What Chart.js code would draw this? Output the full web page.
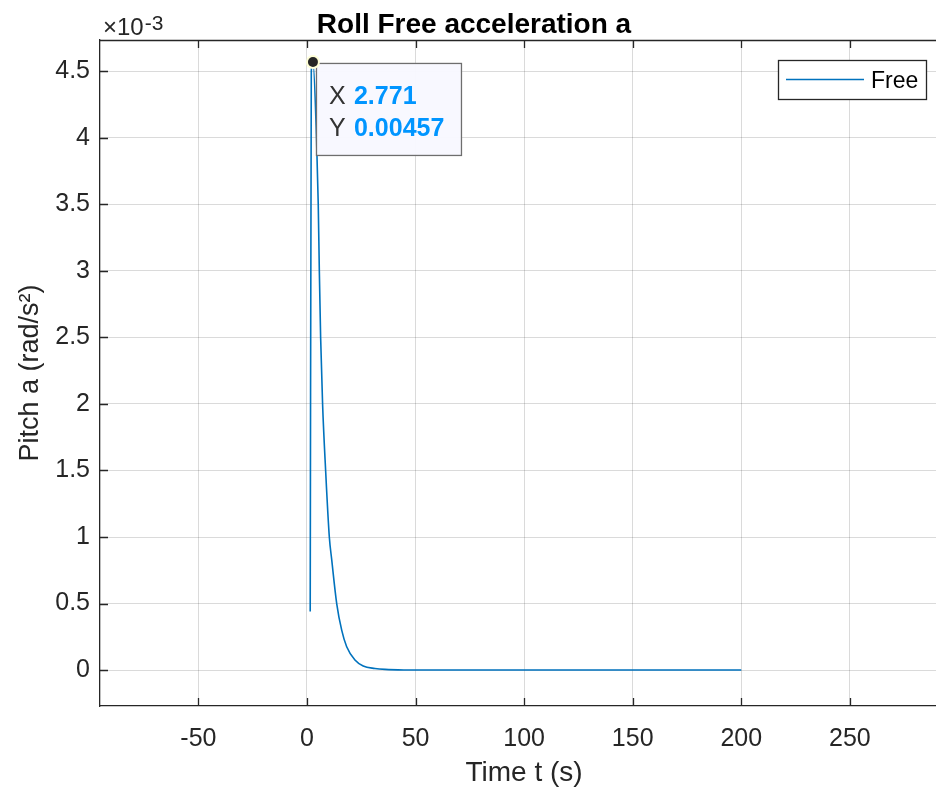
<!DOCTYPE html>
<html>
<head>
<meta charset="utf-8">
<script src="https://cdn.jsdelivr.net/npm/chart.js@4.4.1/dist/chart.umd.min.js"></script>
<style>
  html, body { margin: 0; padding: 0; background: #fff; overflow: hidden; }
  #outer { width: 936px; height: 792px; overflow: hidden; }
  /* the axes run a little past the right edge of the picture */
  #wrap { width: 948px; height: 792px; }
</style>
</head>
<body>
<div id="outer"><div id="wrap"><canvas id="rollChart"></canvas></div></div>
<script>
// values (time in s, acceleration in rad/s^2)
let timeS = [1.5, 2.0, 2.771, 4.4, 5.2, 5.7, 6.3, 7.2, 8.6, 10.3, 11.4, 13.7, 16.0, 18.3, 22.1, 25.9, 31.3, 36.0, 45, 60, 100, 150, 200];
let pitchAcc = [0.00044, 0.00450, 0.00457, 0.00400, 0.00350, 0.00300, 0.00250, 0.00200, 0.00150, 0.00100, 0.00083, 0.00050, 0.00030, 0.000175, 0.000075, 0.00003, 0.000012, 0.000005, 0.000001, 0, 0, 0, 0];
let seriesName = "Free";
let tipIndex = 2;

let xMin = -95.3, xMax = 295.2;
let yMin = -0.00027, yMax = 0.004735;

let fontName = "'Liberation Sans', Arial, sans-serif";
let axisCol = "#262626";
let lineCol = "#0072BD";

let points = timeS.map((t, i) => ({x: t, y: pitchAcc[i]}));

// MATLAB style box: inward ticks, top border, exponent label
let boxPlugin = {
    id: "boxPlugin",
    afterDraw(chart) {
        let ctx = chart.ctx;
        let a = chart.chartArea;
        let xs = chart.scales.x, ys = chart.scales.y;
        ctx.save();
        ctx.strokeStyle = axisCol;
        ctx.lineWidth = 1.3;
        ctx.beginPath();
        ctx.moveTo(a.left, a.top + 0.5);
        ctx.lineTo(a.right, a.top + 0.5);
        xs.ticks.forEach(t => {
            let px = Math.round(xs.getPixelForValue(t.value)) + 0.5;
            ctx.moveTo(px, a.bottom); ctx.lineTo(px, a.bottom - 8);
            ctx.moveTo(px, a.top); ctx.lineTo(px, a.top + 8);
        });
        ys.ticks.forEach(t => {
            let py = Math.round(ys.getPixelForValue(t.value)) + 0.5;
            ctx.moveTo(a.left, py); ctx.lineTo(a.left + 8, py);
        });
        ctx.stroke();

        ctx.fillStyle = axisCol;
        ctx.textBaseline = "alphabetic";
        ctx.textAlign = "left";
        ctx.font = "24px " + fontName;
        ctx.fillText("\u00d710", a.left + 3, a.top - 5);
        let w = ctx.measureText("\u00d710").width;
        ctx.font = "21px " + fontName;
        ctx.fillText("-3", a.left + 3 + w + 1, a.top - 10);
        ctx.restore();
    }
};

let legendPlugin = {
    id: "legendPlugin",
    afterDraw(chart) {
        let ctx = chart.ctx;
        let a = chart.chartArea;
        let bx = a.left + 678, by = a.top + 20, bw = 148, bh = 39;
        ctx.save();
        ctx.fillStyle = "#fff";
        ctx.fillRect(bx, by, bw, bh);
        ctx.strokeStyle = "#262626";
        ctx.lineWidth = 1.3;
        ctx.strokeRect(bx + 0.5, by + 0.5, bw, bh);
        ctx.strokeStyle = lineCol;
        ctx.lineWidth = 1.5;
        ctx.beginPath();
        ctx.moveTo(bx + 8, by + 19.5);
        ctx.lineTo(bx + 86, by + 19.5);
        ctx.stroke();
        ctx.fillStyle = "#000";
        ctx.font = "23px " + fontName;
        ctx.textBaseline = "alphabetic";
        ctx.fillText(chart.data.datasets[0].label, bx + 93, by + 28);
        ctx.restore();
    }
};

let tipPlugin = {
    id: "tipPlugin",
    afterDraw(chart) {
        let ctx = chart.ctx;
        let el = chart.getDatasetMeta(0).data[tipIndex];
        let px = el.x, py = el.y;
        ctx.save();
        let bx = px + 3, by = py + 1, bw = 145, bh = 92;
        ctx.fillStyle = "rgba(248,248,255,0.97)";
        ctx.fillRect(bx, by, bw, bh);
        ctx.strokeStyle = "#6e6e6e";
        ctx.lineWidth = 1.3;
        ctx.strokeRect(bx + 0.5, by + 0.5, bw, bh);

        ctx.font = "25px " + fontName;
        ctx.textBaseline = "alphabetic";
        ctx.fillStyle = "#333";
        ctx.fillText("X", bx + 13, by + 41);
        ctx.fillText("Y", bx + 13, by + 73);
        ctx.fillStyle = "#0095ff";
        ctx.font = "bold 25px " + fontName;
        ctx.fillText(String(timeS[tipIndex]), bx + 38, by + 41);
        ctx.fillText(String(pitchAcc[tipIndex]), bx + 38, by + 73);

        ctx.beginPath();
        ctx.arc(px, py, 7, 0, Math.PI * 2);
        ctx.fillStyle = "#ffffd8";
        ctx.fill();
        ctx.beginPath();
        ctx.arc(px, py, 5, 0, Math.PI * 2);
        ctx.fillStyle = "#262626";
        ctx.fill();
        ctx.restore();
    }
};

let ctx = document.getElementById("rollChart").getContext("2d");
let rollChart = new Chart(ctx, {
    type: "line",
    data: {
        datasets: [{
            label: seriesName,
            data: points,
            borderColor: lineCol,
            borderWidth: 1.6,
            pointRadius: 0,
            fill: false,
            cubicInterpolationMode: "monotone"
        }]
    },
    options: {
        responsive: true,
        maintainAspectRatio: false,
        animation: false,
        layout: { padding: { left: 0, right: 0, top: 0, bottom: 0 } },
        plugins: {
            legend: { display: false },
            tooltip: { enabled: false },
            title: {
                display: true,
                text: "Roll Free acceleration a",
                color: "#000",
                font: { family: fontName, size: 28, weight: "bold", lineHeight: 1.0 },
                padding: { top: 11, bottom: 1 }
            }
        },
        scales: {
            x: {
                type: "linear",
                min: xMin,
                max: xMax,
                afterFit: s => { s.height = 86; },
                border: { color: axisCol, width: 1.3 },
                grid: { color: "rgba(38,38,38,0.17)", lineWidth: 1, drawTicks: false },
                ticks: {
                    stepSize: 50,
                    includeBounds: false,
                    autoSkip: false,
                    maxRotation: 0,
                    padding: 18,
                    color: axisCol,
                    font: { family: fontName, size: 25 }
                },
                title: {
                    display: true,
                    text: "Time t (s)",
                    color: axisCol,
                    font: { family: fontName, size: 28 },
                    padding: { top: 0, bottom: 2 }
                }
            },
            y: {
                type: "linear",
                min: yMin,
                max: yMax,
                afterFit: s => { s.width = 100; },
                border: { color: axisCol, width: 1.3 },
                grid: { color: "rgba(38,38,38,0.17)", lineWidth: 1, drawTicks: false },
                ticks: {
                    stepSize: 0.0005,
                    includeBounds: false,
                    padding: 10,
                    color: axisCol,
                    font: { family: fontName, size: 25 },
                    callback: v => String(Math.round(v * 10000) / 10)
                },
                title: {
                    display: true,
                    text: "Pitch a (rad/s\u00b2)",
                    color: axisCol,
                    font: { family: fontName, size: 27 },
                    padding: { top: 14, bottom: 0 }
                }
            }
        }
    },
    plugins: [boxPlugin, legendPlugin, tipPlugin]
});
</script>
</body>
</html>
